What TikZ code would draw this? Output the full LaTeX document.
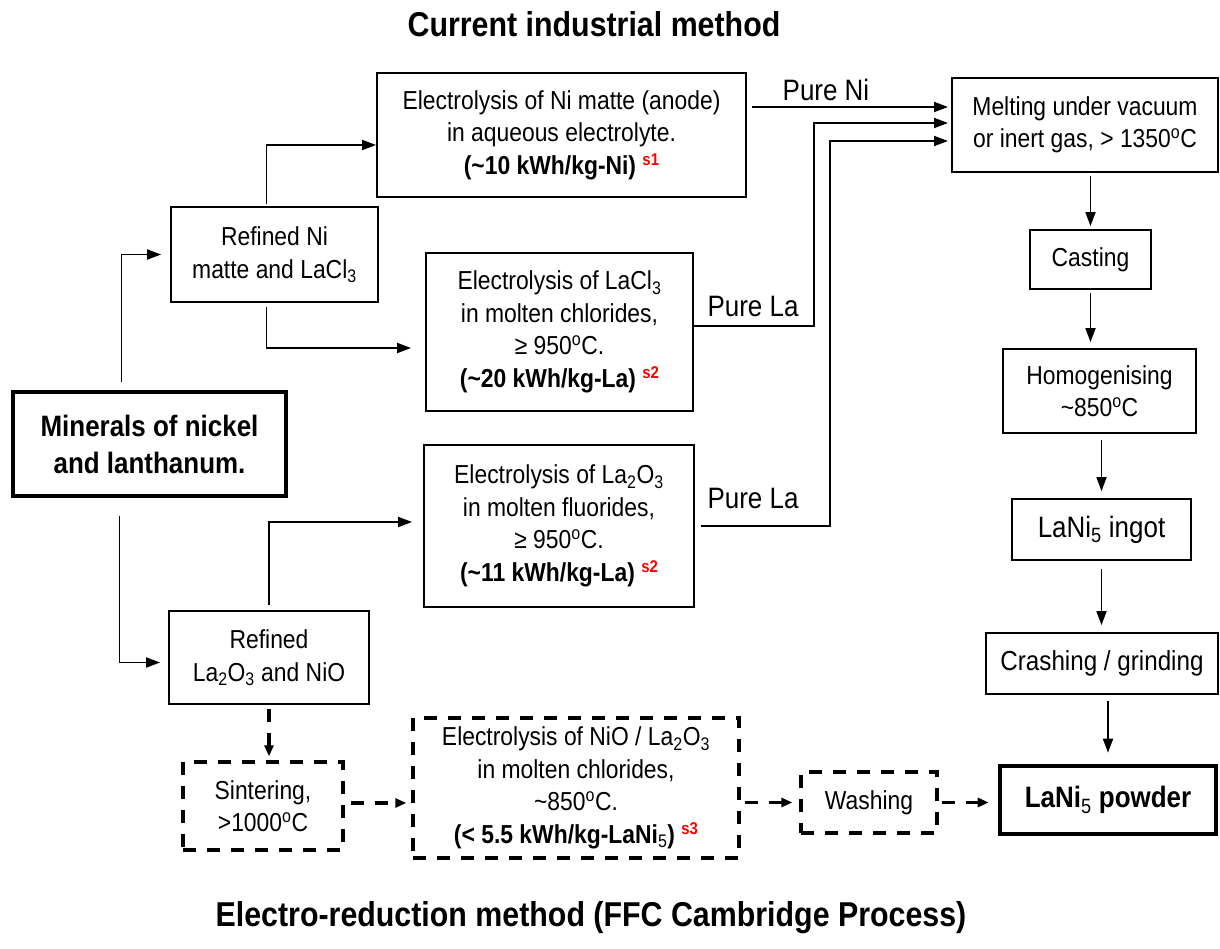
\documentclass[tikz,border=0pt]{standalone}
\usepackage{fontspec}
\setmainfont{Liberation Sans}[FakeStretch=0.88]
\usepackage{xcolor}
\usetikzlibrary{arrows.meta,calc}

\newcommand{\srcmark}[1]{\ {\color{red}\fontsize{17}{17}\selectfont\bfseries\raisebox{9pt}{#1}}}
\newcommand{\degC}{\textsuperscript{o}C}

\begin{document}
\begin{tikzpicture}[x=1pt,y=-1pt,
  >={Triangle[length=14pt,width=10pt]},
  box/.style={draw,line width=1.8pt,align=center,inner sep=0pt,font=\fontsize{26}{32.5}\selectfont},
  bigbox/.style={box,line width=4.6pt,font=\fontsize{29.5}{37}\selectfont\bfseries},
  dbox/.style={box,line width=3.3pt,dash pattern=on 13pt off 11pt},
  flow/.style={->,line width=1.8pt},
  dflow/.style={-{Triangle[length=11pt,width=9pt]},line width=3.3pt,dash pattern=on 13pt off 11pt},
  heading/.style={font=\fontsize{34.5}{34.5}\selectfont\bfseries,anchor=base},
  tag/.style={font=\fontsize{29.5}{29.5}\selectfont,anchor=base}]

\useasboundingbox (0,0) rectangle (1220,949);

\node[heading] (top) at (594,37) {Current industrial method};
\node[heading] (bottom) at (591,926) {Electro-reduction method (FFC Cambridge Process)};

\node[bigbox,minimum width=273pt,minimum height=104pt] (minerals) at (149.5,444) {Minerals of nickel\\and lanthanum.};
\node[box,minimum width=207pt,minimum height=95pt] (refni) at (274.5,254.5) {Refined Ni\\matte and LaCl\textsubscript{3}};
\node[box,minimum width=200pt,minimum height=93pt] (refla) at (269,657.5) {Refined\\La\textsubscript{2}O\textsubscript{3} and NiO};

\node[box,minimum width=369pt,minimum height=124pt] (nielec) at (561.5,135) {Electrolysis of Ni matte (anode)\\in aqueous electrolyte.\\\textbf{(\textasciitilde10 kWh/kg-Ni)}\srcmark{s1}};
\node[box,minimum width=267pt,minimum height=158pt] (lacl) at (559.5,332) {Electrolysis of LaCl\textsubscript{3}\\in molten chlorides,\\≥ 950\degC.\\\textbf{(\textasciitilde20 kWh/kg-La)}\srcmark{s2}};
\node[box,minimum width=270pt,minimum height=162pt] (la2o3) at (559,526) {Electrolysis of La\textsubscript{2}O\textsubscript{3}\\in molten fluorides,\\≥ 950\degC.\\\textbf{(\textasciitilde11 kWh/kg-La)}\srcmark{s2}};

\node[box,minimum width=266pt,minimum height=94pt] (melt) at (1085,125) {Melting under vacuum\\or inert gas, > 1350\degC};
\node[box,minimum width=121pt,minimum height=59pt] (cast) at (1090.5,259.5) {Casting};
\node[box,minimum width=193pt,minimum height=84pt] (homog) at (1099.5,391) {Homogenising\\\textasciitilde850\degC};
\node[box,font=\fontsize{29.5}{32}\selectfont,minimum width=179pt,minimum height=61pt] (ingot) at (1101.5,529.5) {LaNi\textsubscript{5} ingot};
\node[box,font=\fontsize{27.5}{30}\selectfont,minimum width=232pt,minimum height=61pt] (crash) at (1102,663.5) {Crashing / grinding};
\node[bigbox,minimum width=216pt,minimum height=68pt] (powder) at (1108,800) {LaNi{\mdseries\textsubscript{5}} powder};

\node[dbox,minimum width=160pt,minimum height=88pt] (sinter) at (263,806) {Sintering,\\>1000\degC};
\node[dbox,minimum width=326pt,minimum height=140pt] (nioelec) at (576,788) {Electrolysis of NiO / La\textsubscript{2}O\textsubscript{3}\\in molten chlorides,\\\textasciitilde850\degC.\\\textbf{(< 5.5 kWh/kg-LaNi{\mdseries\textsubscript{5}})}\srcmark{s3}};
\node[dbox,minimum width=136pt,minimum height=61pt] (wash) at (869,802.5) {Washing};

\node[tag] (pureni) at (826,101) {Pure Ni};
\node[tag] (purela) at (753,317) {Pure La};
\node[tag] (purelb) at (753,508) {Pure La};

\coordinate (in1) at (948,107);
\coordinate (in2) at (948,123);
\coordinate (in3) at (948,141);

\draw[flow,shorten <=5pt] (nielec.east |- in1) -- (in1);
\draw[flow] ($(lacl.east)+(0,-6)$) -| ($(in2)+(-134,0)$) -- (in2);
\draw[flow,shorten <=6pt] (la2o3.east) -| ($(in3)+(-118,0)$) -- (in3);

\draw[flow,shorten <=8pt] ($(minerals.north)+(-28,0)$) |- ($(refni.west)+(-9,0)$);
\draw[flow] ($(refni.north)+(-8,-2)$) |- ($(nielec.west)+(0,10)$);
\draw[flow,shorten <=4pt] ($(refni.south)+(-8,0)$) |- ($(lacl.west)+(-14,16)$);
\draw[flow,shorten <=18pt] ($(minerals.south)+(-30,0)$) |- ($(refla.west)+(-8,5)$);
\draw[flow,shorten <=5pt] (refla.north) |- ($(la2o3.west)+(-11,-4)$);

\draw[flow,shorten <=3pt,shorten >=3pt] (melt.south -| cast.north) -- (cast.north);
\draw[flow,shorten <=3pt,shorten >=6pt] (cast.south) -- (cast.south |- homog.north);
\draw[flow,shorten <=6pt,shorten >=7pt] (homog.south -| ingot.north) -- (ingot.north);
\draw[flow,shorten <=8pt,shorten >=7pt] (ingot.south) -- (ingot.south |- crash.north);
\draw[flow,shorten <=6pt,shorten >=11pt] (crash.south -| powder.north) -- (powder.north);

\draw[dflow,shorten <=4pt,shorten >=4pt] (refla.south) -- (refla.south |- sinter.north);
\draw[dflow,shorten <=6pt,shorten >=5pt] ($(sinter.east)+(0,-3)$) -- ($(sinter.east -| nioelec.west)+(0,-3)$);
\draw[dflow,shorten <=4pt,shorten >=7pt] (nioelec.east |- wash.west) -- (wash.west);
\draw[dflow,shorten <=3pt,shorten >=9pt] (wash.east) -- (wash.east -| powder.west);

\end{tikzpicture}
\end{document}
